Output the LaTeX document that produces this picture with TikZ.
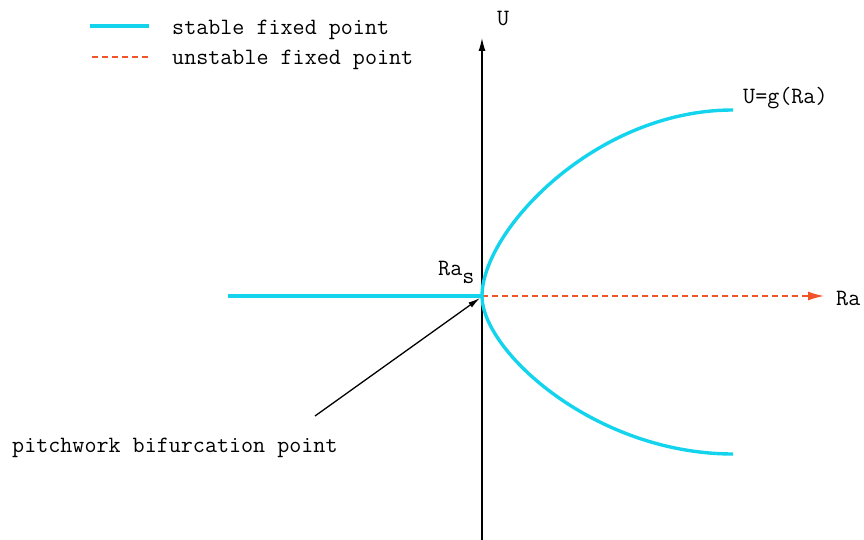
\documentclass[tikz,border=0pt]{standalone}
\usepackage{fontspec}
\usepackage{tikz}
\usepackage{xcolor}
\usetikzlibrary{arrows.meta,positioning}
\definecolor{stablecyan}{rgb}{0.08, 0.83, 0.93}
\definecolor{unstablered}{rgb}{0.95, 0.33, 0.16}

\begin{document}
\begin{tikzpicture}[x=1pt, y=-1pt,
  lbl/.style={font=\ttfamily\fontsize{23.4}{27}\selectfont, inner sep=0pt, anchor=base west},
  stable/.style={draw=stablecyan, line width=3.4pt},
  unstable/.style={draw=unstablered, line width=1.4pt, dash pattern=on 6pt off 4pt},
  axis/.style={-{Latex[length=13pt,width=7pt]}, line width=1.3pt, draw=black},
  pointer/.style={-{Latex[length=12pt,width=6pt]}, line width=1.3pt, draw=black}
]
\useasboundingbox (0,0) rectangle (864,540);

\coordinate (O) at (482,296);
\coordinate (ybot) at (482,540);
\coordinate (ytop) at (482,38);
\coordinate (xleft) at (228,296);
\coordinate (xtip) at (824,296);
\coordinate (upend) at (733,110);
\coordinate (downend) at (733,454);
\coordinate (tail) at (315,416);
\coordinate (ptip) at (480,298);

\coordinate (leg1a) at (90,26);
\coordinate (leg1b) at (149,26);
\coordinate (leg2a) at (92,57);
\coordinate (leg2b) at (149,57);
\node[lbl] (stabletxt) at (172,35) {stable fixed point};
\node[lbl] (unstabletxt) at (172,65) {unstable fixed point};
\draw[stable] (leg1a) -- (leg1b);
\draw[unstable] (leg2a) -- (leg2b);

\draw[axis] (ybot) -- (ytop);
\node[lbl] (ulabel) at (497,26) {U};

\draw[stable] (xleft) -- (O);
\draw[unstable, -{Latex[length=16pt,width=9pt]}] (O) -- (xtip);
\node[lbl] (ralabel) at (836,305) {Ra};

\draw[stable] (O) .. controls (482,231) and (595,110) .. (upend);
\draw[stable] (O) .. controls (482,351) and (595,454) .. (downend);
\node[lbl] (glabel) at (743,104) {U=g(Ra)};

\node[lbl] (raslabel) at (438,275) {Ra\raisebox{-8pt}{s}};

\node[lbl] (pitch) at (12,452) {pitchwork bifurcation point};
\draw[pointer] (tail) -- (ptip);
\end{tikzpicture}
\end{document}
